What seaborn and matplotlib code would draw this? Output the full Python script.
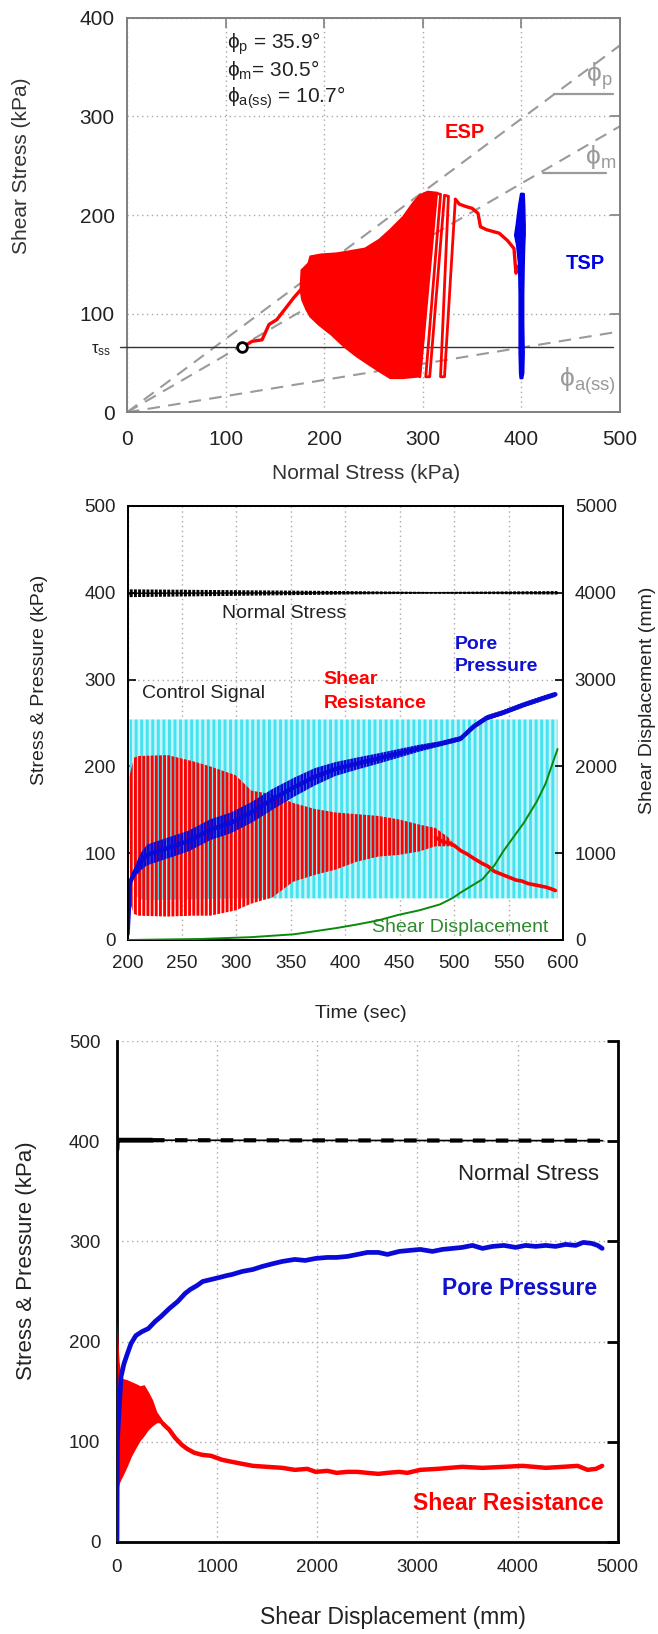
import matplotlib
matplotlib.use("Agg")
import matplotlib.pyplot as plt
import seaborn as sns

# ---------------- Panel 1: stress path ----------------
p1_xticks = [0, 100, 200, 300, 400, 500]
p1_yticks = [0, 100, 200, 300, 400]
env_labels = ["p", "m", "a(ss)"]
env_y_at_500 = [372, 290, 82]          # envelope lines through the origin
tau_ss = 66
ss_point_x = 117
esp_rise_x = [117, 127, 137, 144, 152, 169, 176]
esp_rise_y = [66, 72, 73.5, 89, 94, 116, 124]
esp_blob_x = [176, 177, 184, 186, 197, 212, 224.5, 241.5, 256, 267, 280, 290, 297, 305, 314,
              309.6, 305, 301, 297, 280, 267, 256, 246, 233, 220, 207.5, 194.7, 186, 182, 177.7]
esp_blob_y = [124, 144, 151, 158, 160, 161, 163, 166, 175, 185, 198, 212, 220, 223.6, 222.6,
              181.5, 131, 80, 36.4, 34.7, 34.7, 41.5, 48, 56.7, 66.8, 78.6, 88.7, 97, 104, 114]
esp_loop_x = [297, 314, 318, 303, 307, 322, 326, 318, 322, 333]
esp_loop_y = [36, 222, 221, 36, 36, 220, 219, 36, 36, 216]
esp_tail_x = [333, 337, 344, 350, 356, 358.5, 365, 377.6, 386, 392.5, 393.7, 394.6, 396]
esp_tail_y = [216, 211, 208.5, 206.8, 201.7, 188, 185, 181.5, 174, 166, 150, 141, 148]
tsp_y = [35, 40, 60, 90, 120, 150, 170, 180, 190, 210, 222]
tsp_left = [398.5, 398, 397.5, 397.5, 397.5, 397, 395, 393, 394.5, 397, 399]
tsp_right = [400.5, 401.5, 402, 401.5, 401.5, 402, 402.5, 403, 403, 402.5, 402]

# ---------------- Panel 2: time histories ----------------
p2_xticks = [200, 250, 300, 350, 400, 450, 500, 550, 600]
p2_yticks = [0, 100, 200, 300, 400, 500]
p2_y2ticks = [0, 1000, 2000, 3000, 4000, 5000]
ns2_t = [200, 201, 202, 300, 400, 480, 595]
ns2_hi = [386, 402, 404, 403, 402, 401, 402]
ns2_lo = [384, 394, 395, 396.5, 398, 399, 398]
cs_t = [202, 204, 208, 215, 300, 595]
cs_hi = [254, 254, 254, 254, 254, 254]
cs_lo = [140, 80, 50, 46, 48, 48]
sr2_t = [201, 203, 206, 210, 237, 260, 276, 299, 314, 333, 352, 372, 391, 410, 430, 449, 468, 483, 495, 500]
sr2_hi = [185, 195, 210, 212, 213, 206, 200, 190, 172, 168, 158, 151, 147, 145, 143, 139, 133, 129, 118, 110]
sr2_lo = [150, 40, 30, 28, 27, 28, 28, 34, 42, 49, 67, 75, 81, 90, 96, 98, 102, 108, 108, 107]
sr2_line_t = [483, 490, 495, 500, 506, 512, 518, 526, 531, 537, 545, 551, 557, 562, 568, 576, 584, 589, 593]
sr2_line_v = [118, 113, 112, 109, 103, 99, 94, 88, 85, 79, 75, 72, 69, 68, 65, 63, 61, 59, 57]
pp2_t = [200, 201, 202, 206, 212, 218, 237, 256, 276, 295, 314, 333, 353, 372, 391, 410, 430, 449,
         468, 487, 506, 518, 530, 545, 564, 583, 593]
pp2_v = [7, 30, 65, 77, 90, 98, 106, 114, 127, 135, 147, 162, 176, 188, 197, 203, 209, 215,
         221, 226, 232, 246, 256, 262, 271, 279, 283]
pp2_amp = [0, 0, 3, 6, 10, 12, 12, 12, 12, 12, 12, 12, 11, 10, 8, 7, 6, 5,
           4, 3, 3, 3, 3, 3, 3, 3, 3]
sd2_t = [200, 268, 314, 353, 391, 410, 430, 449, 468, 487, 499, 506, 526, 537, 545, 564, 576, 584, 595]
sd2_v = [0, 12, 33, 66, 136, 177, 225, 290, 342, 410, 486, 547, 700, 860, 1020, 1350, 1597, 1802, 2200]

# ---------------- Panel 3: vs shear displacement ----------------
p3_xticks = [0, 1000, 2000, 3000, 4000, 5000]
p3_yticks = [0, 100, 200, 300, 400, 500]
ns3_d = [0, 2, 10, 350, 4850]
ns3_v = [392, 399, 401, 401, 400.5]
pp3_d = [0, 3, 40, 70, 104, 140, 188, 250, 313, 380, 439, 522, 606, 680, 731, 800, 856, 940, 1023,
         1100, 1149, 1250, 1357, 1450, 1566, 1650, 1775, 1880, 1984, 2100, 2193, 2300, 2402, 2500,
         2610, 2700, 2819, 2920, 3028, 3150, 3250, 3350, 3446, 3550, 3650, 3750, 3864, 3980, 4080,
         4180, 4282, 4380, 4480, 4580, 4657, 4741, 4800, 4845]
pp3_v = [0, 100, 165, 178, 188, 198, 206, 210, 213, 220, 225, 233, 240, 248, 252, 256, 260, 262, 264,
         266, 267, 270, 272, 275, 278, 280, 282, 281, 283, 284, 284, 285, 287, 289,
         289, 287, 290, 291, 292, 290, 292, 293, 294, 296, 293, 295, 296, 294, 296,
         295, 296, 295, 297, 296, 299, 298, 296, 293]
sr3_d = [0, 3, 10, 21, 42, 63, 100, 146, 190, 230, 271, 313, 355, 397, 418, 459, 480]
sr3_hi = [225, 215, 200, 180, 165, 163, 162, 160, 158, 156, 157, 150, 142, 130, 127, 121, 118]
sr3_lo = [37, 45, 52, 58, 63, 67, 75, 86, 94, 101, 106, 112, 116, 119, 119, 117, 116]
sr3_line_d = [459, 522, 580, 647, 700, 773, 850, 940, 1050, 1149, 1250, 1357, 1500, 1650, 1775, 1900,
              1984, 2100, 2193, 2300, 2400, 2500, 2610, 2700, 2819, 2900, 3028, 3200, 3446, 3650,
              3864, 4050, 4282, 4450, 4600, 4699, 4783, 4845]
sr3_line_v = [118, 112, 104, 97, 93, 89, 87, 86, 82, 80, 78, 76, 75, 74, 72, 73,
              70, 71, 69, 70, 70, 69, 68, 69, 70, 69, 72, 73, 75, 74,
              75, 76, 74, 75, 76, 72, 73, 76]

# ---------------- style ----------------
sns.set_theme(style="white")
plt.rcParams["font.family"] = ["Liberation Sans", "DejaVu Sans"]
plt.rcParams["hatch.linewidth"] = 2.1
plt.rcParams["mathtext.default"] = "regular"

RED = "#ff0000"
BLUE = "#0a0ad8"
CYAN = "#45e2f2"
GREEN = "#0a8a0a"
GRAY = "#9a9a9a"
TXT = "#222222"

W, H = 658, 1634
fig = plt.figure(figsize=(W / 100, H / 100), dpi=100)


def add_ax(l, t, r, b):
    return fig.add_axes([l / W, 1 - b / H, (r - l) / W, (b - t) / H])


def grid_style(ax):
    ax.grid(True, color="#a8a8a8", linestyle=(0, (1, 2.5)), linewidth=1.0)
    ax.set_axisbelow(True)


def line(ax, x, y, **kw):
    sns.lineplot(x=x, y=y, ax=ax, sort=False, estimator=None, legend=False, **kw)


# ======== Panel 1 ========
ax1 = add_ax(127, 17.7, 620, 412.3)
ax1.set_xlim(0, 500)
ax1.set_ylim(0, 400)
ax1.set_xticks(p1_xticks)
ax1.set_yticks(p1_yticks)
grid_style(ax1)
for s in ax1.spines.values():
    s.set_color("#808080")
    s.set_linewidth(1.4)
ax1.tick_params(axis="both", direction="in", length=7, width=1.2, color="#808080",
                labelsize=15, labelcolor=TXT, right=True, top=True)
ax1.tick_params(axis="x", pad=13)
ax1.tick_params(axis="y", pad=9)

for yend in env_y_at_500:
    line(ax1, [0, 500], [0, yend], color=GRAY, lw=1.5, linestyle=(0, (6, 4)))
ax1.plot([-7, 493], [tau_ss, tau_ss], color="#333333", lw=1.0, clip_on=False, zorder=3)

ax1.fill(esp_blob_x, esp_blob_y, color=RED, lw=1.5, zorder=4)
line(ax1, esp_rise_x, esp_rise_y, color=RED, lw=2.4, zorder=4)
line(ax1, esp_loop_x, esp_loop_y, color=RED, lw=2.0, zorder=4)
line(ax1, esp_tail_x, esp_tail_y, color=RED, lw=2.4, zorder=4)
ax1.fill_betweenx(tsp_y, tsp_left, tsp_right, color="#0000e6", lw=1.5, zorder=5)
ax1.plot([ss_point_x], [tau_ss], marker="o", ms=7, mfc="white", mec="black", mew=2, zorder=6)

ax1.text(343, 284, "ESP", color=RED, fontsize=14.5, fontweight="bold", ha="center", va="center")
ax1.text(465, 151, "TSP", color="#0000e6", fontsize=14.5, fontweight="bold", ha="center", va="center")
ax1.text(-26, 63, "τ$_{ss}$", fontsize=12, color=TXT, ha="center", va="center", clip_on=False)

ax1.text(101, 374, "ϕ$_p$ = 35.9°", fontsize=15, color=TXT, ha="left", va="center")
ax1.text(101, 347, "ϕ$_m$= 30.5°", fontsize=15, color=TXT, ha="left", va="center")
ax1.text(101, 319, "ϕ$_{a(ss)}$ = 10.7°", fontsize=15, color=TXT, ha="left", va="center")

ax1.plot([433, 493], [323, 323], color=GRAY, lw=1.6)
ax1.plot([422, 486], [243, 243], color=GRAY, lw=1.6)
ax1.text(466, 341, "ϕ$_p$", fontsize=19, color=GRAY, ha="left", va="center")
ax1.text(464, 259, "ϕ$_m$", fontsize=19, color=GRAY, ha="left", va="center")
ax1.text(438, 32, "ϕ$_{a(ss)}$", fontsize=19, color=GRAY, ha="left", va="center")

ax1.set_xlabel("Normal Stress (kPa)", fontsize=15, color="#333333")
ax1.set_ylabel("Shear Stress (kPa)", fontsize=15, color="#333333")
ax1.xaxis.set_label_coords(0.485, -0.156)
ax1.xaxis.label.set_va("center")
ax1.yaxis.set_label_coords(-0.215, 0.624)
ax1.yaxis.label.set_va("center")

# ======== Panel 2 ========
ax2 = add_ax(127.5, 506, 563, 940)
ax2.set_xlim(200, 600)
ax2.set_ylim(0, 500)
ax2.set_xticks(p2_xticks)
ax2.set_yticks(p2_yticks)
grid_style(ax2)
for s in ax2.spines.values():
    s.set_color("black")
    s.set_linewidth(1.4)
ax2.tick_params(axis="both", direction="in", length=6, width=1.2, color="black",
                labelsize=13.5, labelcolor=TXT)
ax2.tick_params(axis="x", pad=11)
ax2.tick_params(axis="y", pad=8.5)

ax2.fill_between(cs_t, cs_lo, cs_hi, facecolor="#c4f5fa", edgecolor=CYAN, hatch="|||", lw=0, zorder=2)
ax2.fill_between(sr2_t, sr2_lo, sr2_hi, facecolor="none", edgecolor=RED, hatch="||||", lw=0, zorder=3)
line(ax2, sr2_line_t, sr2_line_v, color=RED, lw=2.6, zorder=3)
pp_lo = [v - a for v, a in zip(pp2_v, pp2_amp)]
pp_hi = [v + a for v, a in zip(pp2_v, pp2_amp)]
ax2.fill_between(pp2_t, pp_lo, pp_hi, facecolor="none", edgecolor=BLUE, hatch="|||||", lw=0, zorder=4)
line(ax2, pp2_t, pp2_v, color=BLUE, lw=3.2, zorder=4)
ax2.fill_between(ns2_t, ns2_lo, ns2_hi, facecolor="none", edgecolor="black", hatch="||||", lw=0, zorder=4)
line(ax2, ns2_t, [(a + b) / 2 for a, b in zip(ns2_lo, ns2_hi)], color="black", lw=1.0, zorder=4)

ax2r = ax2.twinx()
ax2r.set_ylim(0, 5000)
ax2r.set_yticks(p2_y2ticks)
ax2r.grid(False)
ax2r.tick_params(axis="y", direction="in", length=6, width=1.2, color="black",
                 labelsize=13.5, labelcolor=TXT, pad=8.5)
for s in ax2r.spines.values():
    s.set_color("black")
    s.set_linewidth(1.4)
line(ax2r, sd2_t, sd2_v, color=GREEN, lw=1.4, zorder=5)

ax2.text(344, 376, "Normal Stress", fontsize=14, color=TXT, ha="center", va="center", zorder=6)
ax2.text(270, 284, "Control Signal", fontsize=14, color=TXT, ha="center", va="center", zorder=6)
ax2.text(380, 300, "Shear", fontsize=14, color=RED, fontweight="bold", ha="left", va="center", zorder=6)
ax2.text(380, 272, "Resistance", fontsize=14, color=RED, fontweight="bold", ha="left", va="center", zorder=6)
ax2.text(501, 341, "Pore", fontsize=14, color="#1010d0", fontweight="bold", ha="left", va="center", zorder=6)
ax2.text(501, 315, "Pressure", fontsize=14, color="#1010d0", fontweight="bold", ha="left", va="center", zorder=6)
ax2.text(425, 14, "Shear Displacement", fontsize=14, color="#2e8b2e", ha="left", va="center", zorder=6)

ax2.set_xlabel("Time (sec)", fontsize=14, color=TXT)
ax2.xaxis.set_label_coords(0.535, -0.17)
ax2.xaxis.label.set_va("center")
ax2.set_ylabel("Stress & Pressure (kPa)", fontsize=14, color=TXT)
ax2.yaxis.set_label_coords(-0.201, 0.599)
ax2.yaxis.label.set_va("center")
ax2r.set_ylabel("Shear Displacement (mm)", fontsize=14, color=TXT, rotation=90)
ax2r.yaxis.set_label_coords(1.195, 0.553)
ax2r.yaxis.label.set_va("center")

# ======== Panel 3 ========
ax3 = add_ax(117, 1041, 617.7, 1542)
ax3.set_xlim(0, 5000)
ax3.set_ylim(0, 500)
ax3.set_xticks(p3_xticks)
ax3.set_yticks(p3_yticks)
grid_style(ax3)
for name, s in ax3.spines.items():
    s.set_color("black")
    s.set_linewidth(2.0)
ax3.spines["top"].set_visible(False)
ax3.tick_params(axis="both", direction="in", length=8, width=2, color="black",
                labelsize=13.5, labelcolor=TXT, right=True)
ax3.tick_params(axis="x", pad=12)
ax3.tick_params(axis="y", pad=12)

line(ax3, ns3_d, ns3_v, color="black", lw=1.2, zorder=3)
line(ax3, ns3_d[:4], ns3_v[:4], color="black", lw=3.5, zorder=3)
line(ax3, ns3_d[3:], ns3_v[3:], color="black", lw=3.0, linestyle=(0, (3, 2.5)), zorder=3)
ax3.fill_between(sr3_d, sr3_lo, sr3_hi, color=RED, lw=0, zorder=3)
line(ax3, sr3_line_d, sr3_line_v, color=RED, lw=3.2, zorder=3)
line(ax3, pp3_d, pp3_v, color=BLUE, lw=3.4, zorder=4)

ax3.text(4816, 367, "Normal Stress", fontsize=16, color=TXT, ha="right", va="center")
ax3.text(4791, 253, "Pore Pressure", fontsize=16.5, color="#1010d0", fontweight="bold", ha="right", va="center")
ax3.text(4855, 38.5, "Shear Resistance", fontsize=16.5, color=RED, fontweight="bold", ha="right", va="center")

ax3.set_xlabel("Shear Displacement (mm)", fontsize=16.5, color=TXT)
ax3.xaxis.set_label_coords(0.551, -0.15)
ax3.xaxis.label.set_va("center")
ax3.set_ylabel("Stress & Pressure (kPa)", fontsize=16, color=TXT)
ax3.yaxis.set_label_coords(-0.18, 0.561)
ax3.yaxis.label.set_va("center")

fig.savefig("out.png", dpi=100)
